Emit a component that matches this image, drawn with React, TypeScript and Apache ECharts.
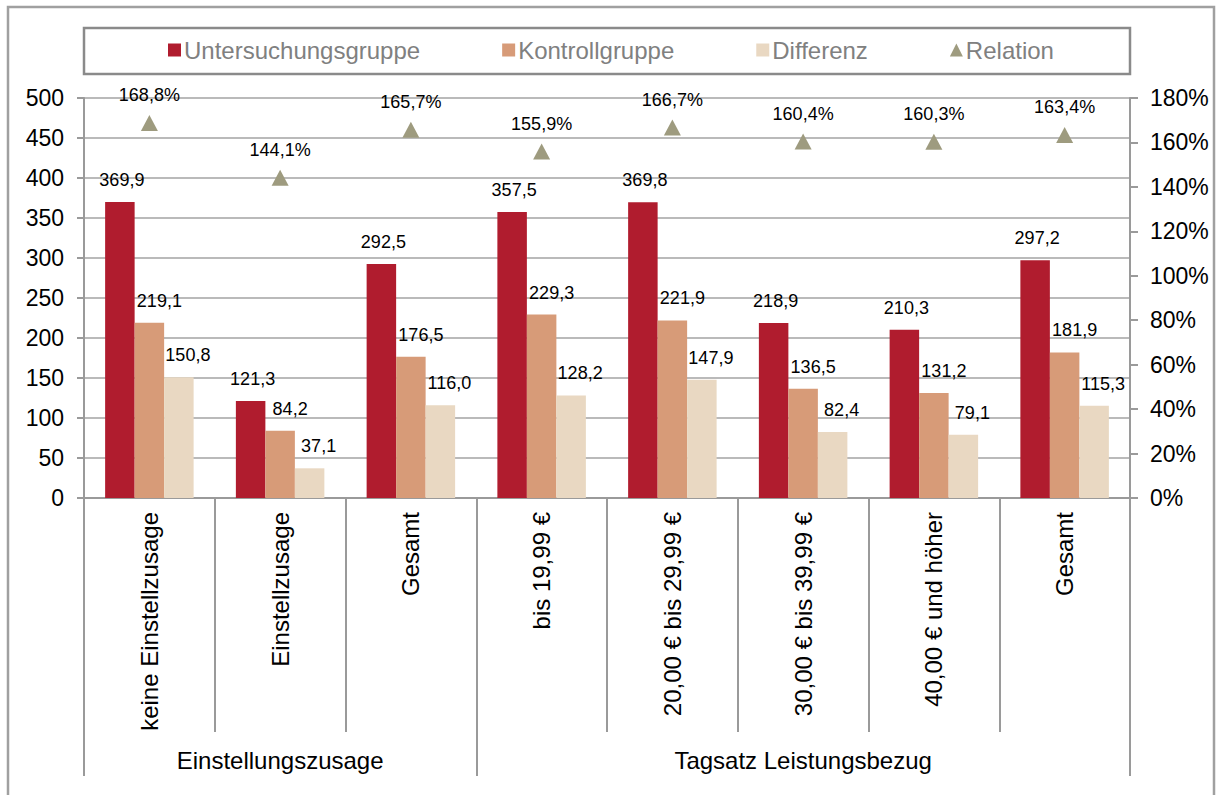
import React, { useEffect, useRef } from "react";
import * as echarts from "echarts";

const CATEGORIES = [
  "keine Einstellzusage",
  "Einstellzusage",
  "Gesamt",
  "bis 19,99 €",
  "20,00 € bis 29,99 €",
  "30,00 € bis 39,99 €",
  "40,00 € und höher",
  "Gesamt",
];
const GROUP_NAMES = ["Einstellungszusage", "Tagsatz Leistungsbezug"];
const GROUP_SIZES = [3, 5];

const UNTERSUCHUNG = [369.9, 121.3, 292.5, 357.5, 369.8, 218.9, 210.3, 297.2];
const KONTROLL = [219.1, 84.2, 176.5, 229.3, 221.9, 136.5, 131.2, 181.9];
const DIFFERENZ = [150.8, 37.1, 116.0, 128.2, 147.9, 82.4, 79.1, 115.3];
const RELATION = [168.8, 144.1, 165.7, 155.9, 166.7, 160.4, 160.3, 163.4];

const FONT = "'Liberation Sans', Arial, sans-serif";
const GRID_GRAY = "#a3a3a3";
const AXIS_GRAY = "#9a9a9a";

const fmt = (v: number) => v.toFixed(1).replace(".", ",");

export default function App() {
  const ref = useRef<HTMLDivElement>(null);

  useEffect(() => {
    if (!ref.current) return;
    const chart = echarts.init(ref.current, undefined, { renderer: "svg" });

    const groupStarts: number[] = [];
    const groupLabelAt: Record<number, string> = {};
    let acc = 0;
    GROUP_SIZES.forEach((n, i) => {
      groupStarts.push(acc);
      groupLabelAt[acc + Math.floor(n / 2)] = GROUP_NAMES[i];
      acc += n;
    });

    const barLabel = (dx: number) => ({
      show: true,
      position: "top" as const,
      distance: 13,
      offset: [dx, 0],
      color: "#000",
      fontSize: 18,
      fontFamily: FONT,
      formatter: (p: any) => fmt(p.value),
    });

    const option: any = {
      animation: false,
      backgroundColor: "#fff",
      textStyle: { fontFamily: FONT },
      graphic: [
        {
          type: "rect",
          shape: { x: 8, y: 7, width: 1206, height: 900 },
          style: { fill: "none", stroke: "#a0a0a0", lineWidth: 2.5 },
          silent: true,
        },
        {
          type: "rect",
          shape: { x: 84, y: 28, width: 1046, height: 46 },
          style: { fill: "none", stroke: "#8a8a8a", lineWidth: 2.5 },
          silent: true,
        },
      ],
      legend: {
        left: 168,
        top: 38,
        padding: 0,
        itemGap: 82,
        itemWidth: 13,
        itemHeight: 13,
        textStyle: { color: "#808080", fontSize: 24, fontFamily: FONT, padding: [0, 0, 0, -2] },
        data: [
          { name: "Untersuchungsgruppe", icon: "rect" },
          { name: "Kontrollgruppe", icon: "rect" },
          { name: "Differenz", icon: "rect" },
          { name: "Relation", icon: "triangle" },
        ],
      },
      grid: { left: 84, right: 86, top: 98, bottom: 297 },
      xAxis: [
        {
          type: "category",
          data: CATEGORIES,
          position: "bottom",
          axisLine: { show: true, lineStyle: { color: AXIS_GRAY, width: 2 } },
          axisTick: { show: true, interval: 0, length: 234, lineStyle: { color: AXIS_GRAY, width: 2 } },
          axisLabel: {
            interval: 0,
            rotate: 90,
            margin: 14,
            color: "#000",
            fontSize: 24,
            fontFamily: FONT,
          },
        },
        {
          type: "category",
          data: CATEGORIES,
          position: "bottom",
          offset: 0,
          axisLine: { show: false },
          axisTick: {
            show: true,
            interval: (idx: number) => groupStarts.includes(idx),
            length: 278,
            lineStyle: { color: AXIS_GRAY, width: 2 },
          },
          axisLabel: {
            interval: 0,
            margin: 250,
            color: "#000",
            fontSize: 24,
            fontFamily: FONT,
            formatter: (_v: string, idx: number) => groupLabelAt[idx] || "",
          },
        },
      ],
      yAxis: [
        {
          type: "value",
          min: 0,
          max: 500,
          interval: 50,
          axisLine: { show: true, lineStyle: { color: AXIS_GRAY, width: 2 } },
          axisTick: { show: true, length: 7, lineStyle: { color: AXIS_GRAY, width: 2 } },
          axisLabel: { margin: 20, color: "#000", fontSize: 23, fontFamily: FONT },
          splitLine: { show: true, lineStyle: { color: GRID_GRAY, width: 1.5 } },
        },
        {
          type: "value",
          min: 0,
          max: 180,
          interval: 20,
          position: "right",
          axisLine: { show: true, lineStyle: { color: AXIS_GRAY, width: 2 } },
          axisTick: { show: true, length: 8, lineStyle: { color: AXIS_GRAY, width: 2 } },
          axisLabel: {
            margin: 20,
            color: "#000",
            fontSize: 23,
            fontFamily: FONT,
            formatter: (v: number) => Math.round(v) + "%",
          },
          splitLine: { show: false },
        },
      ],
      series: [
        {
          name: "Untersuchungsgruppe",
          type: "bar",
          data: UNTERSUCHUNG,
          barWidth: 29.5,
          barGap: "0%",
          itemStyle: { color: "#b01c2e" },
          label: barLabel(2),
        },
        {
          name: "Kontrollgruppe",
          type: "bar",
          data: KONTROLL,
          barWidth: 29.5,
          barGap: "0%",
          itemStyle: { color: "#d79b78" },
          label: barLabel(10),
        },
        {
          name: "Differenz",
          type: "bar",
          data: DIFFERENZ,
          barWidth: 29.5,
          barGap: "0%",
          itemStyle: { color: "#e9d8c2" },
          label: barLabel(9),
        },
        {
          name: "Relation",
          type: "scatter",
          yAxisIndex: 1,
          data: RELATION,
          symbol: "triangle",
          symbolSize: [17, 16],
          itemStyle: { color: "#9e9b7f", opacity: 1 },
          label: {
            show: true,
            position: "top",
            distance: 11,
            color: "#000",
            opacity: 1,
            fontSize: 18,
            fontFamily: FONT,
            formatter: (p: any) => fmt(p.value) + "%",
          },
        },
      ],
    };

    chart.setOption(option);
    return () => chart.dispose();
  }, []);

  return (
    <div
      ref={ref}
      style={{ position: "absolute", left: 0, top: 0, width: 1216, height: 795, background: "#fff" }}
    />
  );
}
